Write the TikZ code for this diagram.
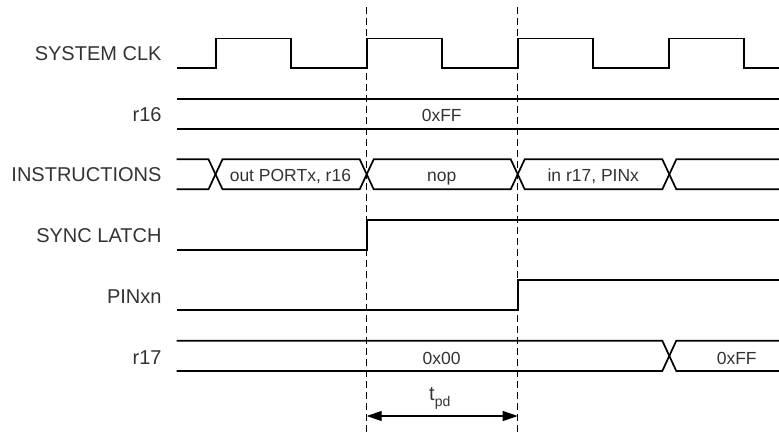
\documentclass[tikz,border=0pt]{standalone}
\usepackage{fontspec}
\setmainfont{Liberation Sans}
\usetikzlibrary{arrows.meta}
\begin{document}
\begin{tikzpicture}[x=1pt,y=-1pt,
  wave/.style={line width=1.7pt, line join=miter, black},
  guide/.style={line width=1.1pt, dash pattern=on 7pt off 4pt, black},
  lbl/.style={anchor=base east, inner sep=0pt, font=\fontsize{20}{24}\selectfont, text=black!80},
  val/.style={anchor=base, inner sep=0pt, font=\fontsize{17.5}{21}\selectfont, text=black!80},
  dim/.style={line width=1.1pt, {Triangle[length=15pt,width=10pt]}-{Triangle[length=15pt,width=10pt]}}]
\useasboundingbox (0,0) rectangle (779,432);

% labels
\node[lbl] (lclk) at (161.7,60.7) {SYSTEM CLK};
\node[lbl] (lr16) at (161.7,121.7) {r16};
\node[lbl] (lins) at (161.7,181.7) {INSTRUCTIONS};
\node[lbl] (lsync) at (161.7,242.7) {SYNC LATCH};
\node[lbl] (lpin) at (161.7,303.3) {PINxn};
\node[lbl] (lr17) at (161.7,364) {r17};

% guides
\draw[guide] (366.7,7) -- (366.7,432);
\draw[guide] (517.7,7) -- (517.7,432);

% system clock
\draw[wave] (176.7,68.3) -- (215.7,68.3) -- (215.7,38.5) -- (291.2,38.5) -- (291.2,68.3)
  -- (366.7,68.3) -- (366.7,38.5) -- (442.2,38.5) -- (442.2,68.3)
  -- (517.7,68.3) -- (517.7,38.5) -- (593.2,38.5) -- (593.2,68.3)
  -- (669,68.3) -- (669,38.5) -- (744.2,38.5) -- (744.2,68.3) -- (779,68.3);

% r16
\draw[wave] (176.7,98.7) -- (779,98.7);
\draw[wave] (176.7,128.7) -- (779,128.7);
\node[val] (v16) at (441.7,121.7) {0xFF};

% instructions
\draw[wave] (176.7,159.3) -- (208.5,159.3) -- (222.5,189.3) -- (359.7,189.3) -- (373.7,159.3)
  -- (510.7,159.3) -- (524.7,189.3) -- (662.3,189.3) -- (676.3,159.3) -- (779,159.3);
\draw[wave] (176.7,189.3) -- (208.5,189.3) -- (222.5,159.3) -- (359.7,159.3) -- (373.7,189.3)
  -- (510.7,189.3) -- (524.7,159.3) -- (662.3,159.3) -- (676.3,189.3) -- (779,189.3);
\node[val] (i1) at (290.4,181.7) {out PORTx, r16};
\node[val] (i2) at (441.7,181.7) {nop};
\node[val] (i3) at (593.3,181.7) {in r17, PINx};

% sync latch
\draw[wave] (176.7,250) -- (366.7,250) -- (366.7,220) -- (779,220);

% PINxn
\draw[wave] (176.7,310) -- (517.7,310) -- (517.7,280) -- (779,280);

% r17
\draw[wave] (176.7,340.7) -- (662.3,340.7) -- (676.3,371) -- (779,371);
\draw[wave] (176.7,371) -- (662.3,371) -- (676.3,340.7) -- (779,340.7);
\node[val] (v17a) at (441.7,364) {0x00};
\node[val] (v17b) at (736.7,364) {0xFF};

% t_pd
\coordinate (ta) at (366.7,416);
\coordinate (tb) at (517.7,416);
\draw[dim] (ta) -- (tb);
\node[anchor=base west, inner sep=0pt, font=\fontsize{20}{24}\selectfont, text=black!80] (tpd) at (429,400)
  {t\raisebox{-6pt}{\fontsize{14}{16}\selectfont pd}};
\end{tikzpicture}
\end{document}
